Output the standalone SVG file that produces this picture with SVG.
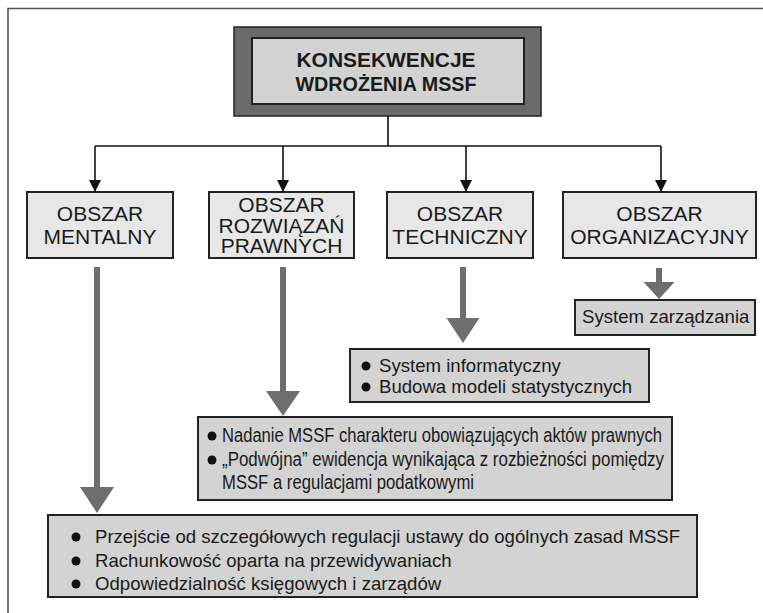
<svg xmlns="http://www.w3.org/2000/svg" width="763" height="613" viewBox="0 0 763 613">
  <style>
    text { font-family: "Liberation Sans", Arial, sans-serif; fill: #1a1a1a; }
    .title { font-size: 21px; font-weight: bold; text-anchor: middle; }
    .area { font-size: 21px; text-anchor: middle; }
    .item { font-size: 18.6px; }
    .narrow { font-size: 19.5px; }
    .box-area { fill: #e7e7e7; stroke: #222; stroke-width: 2; }
    .box-list { fill: #d3d3d3; stroke: #222; stroke-width: 2; }
    .link { fill: none; stroke: #111; stroke-width: 1.6; }
    .fat { fill: #6e6e6e; }
    .dot { fill: #111; }
  </style>
  <defs>
    <marker id="tip" viewBox="0 0 12 12" refX="12" refY="6" markerWidth="12" markerHeight="12" markerUnits="userSpaceOnUse" orient="auto">
      <path d="M0,0 L12,6 L0,12 Z" fill="#111"/>
    </marker>
  </defs>

  <!-- page frame -->
  <path d="M8,613 V8.5 H763" fill="none" stroke="#555" stroke-width="1.6"/>

  <!-- root node -->
  <g id="root">
    <rect x="234" y="27" width="307" height="89" fill="#6b6b6b" stroke="#222" stroke-width="1.5"/>
    <rect x="252" y="38" width="272" height="66" fill="#d2d2d2" stroke="#222" stroke-width="2"/>
    <text class="title" x="386" y="67" textLength="179" lengthAdjust="spacingAndGlyphs">KONSEKWENCJE</text>
    <text class="title" x="386" y="91" textLength="181" lengthAdjust="spacingAndGlyphs">WDROŻENIA MSSF</text>
  </g>

  <!-- area nodes -->
  <g id="mentalny">
    <rect class="box-area" x="27" y="192" width="146" height="66"/>
    <text class="area" x="100" y="221">OBSZAR</text>
    <text class="area" x="100" y="244">MENTALNY</text>
  </g>
  <g id="prawny">
    <rect class="box-area" x="209" y="192" width="145" height="66"/>
    <text class="area" x="281.5" y="212">OBSZAR</text>
    <text class="area" x="281.5" y="233">ROZWIĄZAŃ</text>
    <text class="area" x="281.5" y="253">PRAWNYCH</text>
  </g>
  <g id="techniczny">
    <rect class="box-area" x="387" y="192" width="146" height="66"/>
    <text class="area" x="460" y="221">OBSZAR</text>
    <text class="area" x="460" y="244">TECHNICZNY</text>
  </g>
  <g id="organizacyjny">
    <rect class="box-area" x="563" y="192" width="193" height="66"/>
    <text class="area" x="659.5" y="221">OBSZAR</text>
    <text class="area" x="659.5" y="244">ORGANIZACYJNY</text>
  </g>

  <!-- result nodes -->
  <g id="zarzadzanie">
    <rect class="box-list" x="575" y="300" width="180" height="35"/>
    <text class="item" x="582" y="323">System zarządzania</text>
  </g>
  <g id="technika">
    <rect class="box-list" x="350" y="349" width="299" height="53"/>
    <circle class="dot" cx="366" cy="366" r="4.5"/>
    <text class="item" x="379" y="372">System informatyczny</text>
    <circle class="dot" cx="366" cy="387" r="4.5"/>
    <text class="item" x="379" y="393">Budowa modeli statystycznych</text>
  </g>
  <g id="prawo">
    <rect class="box-list" x="198" y="417" width="474" height="83"/>
    <circle class="dot" cx="212" cy="436" r="4.5"/>
    <text class="narrow" x="222" y="442" textLength="440" lengthAdjust="spacingAndGlyphs">Nadanie MSSF charakteru obowiązujących aktów prawnych</text>
    <circle class="dot" cx="212" cy="460" r="4.5"/>
    <text class="narrow" x="222" y="466" textLength="442" lengthAdjust="spacingAndGlyphs">„Podwójna” ewidencja wynikająca z rozbieżności pomiędzy</text>
    <text class="narrow" x="222" y="489" textLength="252" lengthAdjust="spacingAndGlyphs">MSSF a regulacjami podatkowymi</text>
  </g>
  <g id="mentalnosc">
    <rect class="box-list" x="48" y="515" width="649" height="82"/>
    <circle class="dot" cx="76" cy="537" r="4.5"/>
    <text class="item" x="95" y="543" textLength="585" lengthAdjust="spacingAndGlyphs">Przejście od szczegółowych regulacji ustawy do ogólnych zasad MSSF</text>
    <circle class="dot" cx="76" cy="561" r="4.5"/>
    <text class="item" x="95" y="567">Rachunkowość oparta na przewidywaniach</text>
    <circle class="dot" cx="76" cy="584" r="4.5"/>
    <text class="item" x="95" y="590">Odpowiedzialność księgowych i zarządów</text>
  </g>

  <!-- connectors -->
  <g id="connectors">
    <path class="link" d="M388,116 V146 M95,146 H661"/>
    <path class="link" d="M95,146 V192" marker-end="url(#tip)"/>
    <path class="link" d="M283,146 V192" marker-end="url(#tip)"/>
    <path class="link" d="M466,146 V192" marker-end="url(#tip)"/>
    <path class="link" d="M661,146 V192" marker-end="url(#tip)"/>

    <!-- broad grey arrows -->
    <path class="fat" d="M94,267 h6 V487 h14 L97,513 L80,487 h14 Z"/>
    <path class="fat" d="M280,267 h6 V391 h14 L283,416 L266,391 h14 Z"/>
    <path class="fat" d="M460,267 h6 V318 h13.5 L463,343 L446.5,318 h13.5 Z"/>
    <path class="fat" d="M656,268 h6 V282 h12.5 L659,299 L643.5,282 h12.5 Z"/>
  </g>
</svg>
